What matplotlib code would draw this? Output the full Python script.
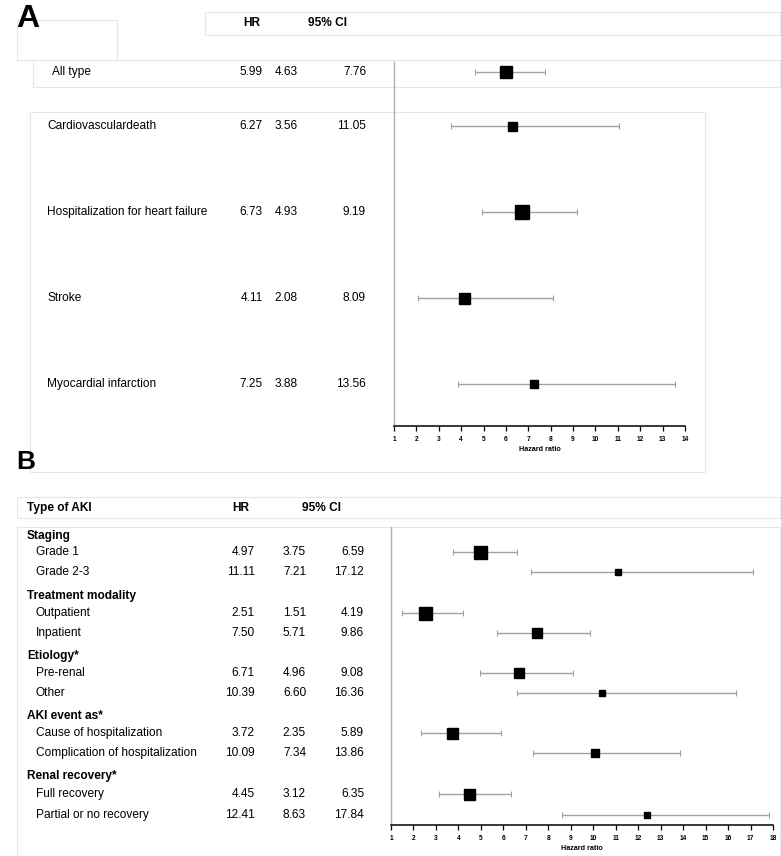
import matplotlib
matplotlib.use("Agg")
import matplotlib.pyplot as plt
from matplotlib.patches import Rectangle

plt.rcParams['font.family'] = ['Liberation Sans', 'DejaVu Sans']

# ---------------- data ----------------
a_labels = ["All type", "Cardiovasculardeath", "Hospitalization for heart failure",
            "Stroke", "Myocardial infarction"]
a_hr = [5.99, 6.27, 6.73, 4.11, 7.25]
a_lo = [4.63, 3.56, 4.93, 2.08, 3.88]
a_hi = [7.76, 11.05, 9.19, 8.09, 13.56]
a_ticks = list(range(1, 15))

b_groups = ["Staging", "Treatment modality", "Etiology*", "AKI event as*", "Renal recovery*"]
b_labels = ["Grade 1", "Grade 2-3", "Outpatient", "Inpatient", "Pre-renal", "Other",
            "Cause of hospitalization", "Complication of hospitalization",
            "Full recovery", "Partial or no recovery"]
b_hr = [4.97, 11.11, 2.51, 7.50, 6.71, 10.39, 3.72, 10.09, 4.45, 12.41]
b_lo = [3.75, 7.21, 1.51, 5.71, 4.96, 6.60, 2.35, 7.34, 3.12, 8.63]
b_hi = [6.59, 17.12, 4.19, 9.86, 9.08, 16.36, 5.89, 13.86, 6.35, 17.84]
b_ticks = list(range(1, 19))

# ---------------- layout (pixels) ----------------
W, H = 781, 856
fig = plt.figure(figsize=(W / 100, H / 100), dpi=100)
ov = fig.add_axes([0, 0, 1, 1])
ov.set_xlim(0, W)
ov.set_ylim(H, 0)
ov.axis('off')

a_rows = [72, 126, 212, 298, 384]
a_msize = [12, 9, 14, 11, 8]
b_group_rows = [536, 596, 656, 716, 776]
b_rows = [552, 572, 613, 633, 673, 693, 733, 753, 794, 815]
b_msize = [13, 6, 13, 10, 10, 6, 11, 8, 11, 6]

boxc = '#e6e6e6'
def box(x0, y0, x1, y1):
    ov.add_patch(Rectangle((x0, y0), x1 - x0, y1 - y0, fill=False, ec=boxc, lw=0.8))

# panel A boxes
box(205, 12, 780, 35)
box(17, 20, 117, 60)
box(33, 60, 780, 87)
box(30, 112, 705, 472)
# panel B boxes
box(17, 497, 780, 518)
box(17, 527, 780, 856)

fs = 8.6
ov.text(16, 27, "A", fontsize=23, fontweight='bold', va='baseline')
ov.text(16, 469, "B", fontsize=19, fontweight='bold', va='baseline')

# Panel A text
ov.text(252, 23, "HR", fontsize=fs, fontweight='bold', ha='center', va='center')
ov.text(327, 23, "95% CI", fontsize=fs, fontweight='bold', ha='center', va='center')
for i, (lab, h, lo, hi) in enumerate(zip(a_labels, a_hr, a_lo, a_hi)):
    y = a_rows[i]
    ov.text(52 if i == 0 else 47, y, lab, fontsize=fs, va='center')
    ov.text(263, y, f"{h:.2f}", fontsize=fs, va='center', ha='right')
    ov.text(298, y, f"{lo:.2f}", fontsize=fs, va='center', ha='right')
    ov.text(366, y, f"{hi:.2f}", fontsize=fs, va='center', ha='right')

# Panel B text
ov.text(27, 508, "Type of AKI", fontsize=fs, fontweight='bold', va='center')
ov.text(241, 508, "HR", fontsize=fs, fontweight='bold', ha='center', va='center')
ov.text(321, 508, "95% CI", fontsize=fs, fontweight='bold', ha='center', va='center')
for g, y in zip(b_groups, b_group_rows):
    ov.text(27, y, g, fontsize=fs, fontweight='bold', va='center')
for i, (lab, h, lo, hi) in enumerate(zip(b_labels, b_hr, b_lo, b_hi)):
    y = b_rows[i]
    ov.text(36, y, lab, fontsize=fs, va='center')
    ov.text(255, y, f"{h:.2f}", fontsize=fs, va='center', ha='right')
    ov.text(306, y, f"{lo:.2f}", fontsize=fs, va='center', ha='right')
    ov.text(364, y, f"{hi:.2f}", fontsize=fs, va='center', ha='right')


def forest(xpix0, xpix1, ytop, ybot, xmin, xmax, rows, hr, lo, hi, msz, ticks, refcolor):
    ax = fig.add_axes([xpix0 / W, 1 - ybot / H, (xpix1 - xpix0) / W, (ybot - ytop) / H])
    ax.set_xlim(xmin, xmax)
    ax.set_ylim(ybot, ytop)
    ax.patch.set_alpha(0)
    for s in ['top', 'right', 'left']:
        ax.spines[s].set_visible(False)
    ax.spines['bottom'].set_linewidth(1.1)
    ax.set_yticks([])
    ax.set_xticks(ticks)
    ax.tick_params(axis='x', length=3.5, width=0.9, labelsize=4.8, pad=4)
    for t in ax.get_xticklabels():
        t.set_fontweight('bold')
    ax.set_xlabel("Hazard ratio", fontsize=5.2, fontweight='bold', labelpad=1.5)
    ax.axvline(1, color=refcolor, lw=1.0, clip_on=False)
    for y, h, l, u, m in zip(rows, hr, lo, hi, msz):
        ax.errorbar([h], [y], xerr=[[h - l], [u - h]], fmt='none', ecolor='#a0a0a0',
                    elinewidth=1.0, capsize=2.2, capthick=0.8, clip_on=False)
        ax.plot([h], [y], marker='s', color='black', markersize=m * 0.72, ls='none',
                clip_on=False, zorder=3)
    return ax

forest(394, 685, 62, 426, 1, 14, a_rows, a_hr, a_lo, a_hi, a_msize, a_ticks, '#b0b0b0')
forest(391, 773, 527, 825, 1, 18, b_rows, b_hr, b_lo, b_hi, b_msize, b_ticks, '#b0b0b0')

fig.savefig("out.png", dpi=100)
